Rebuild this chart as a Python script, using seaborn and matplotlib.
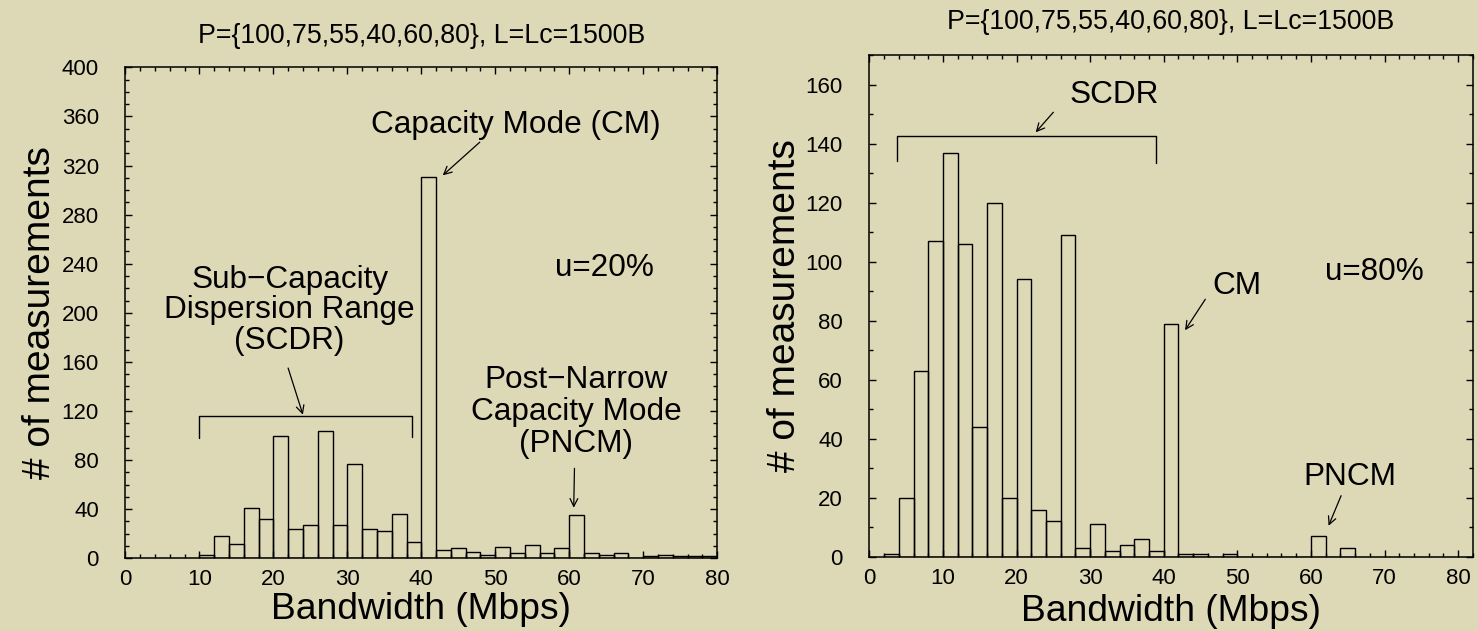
import numpy as np
import pandas as pd
import seaborn as sns
import matplotlib.pyplot as plt
from matplotlib.ticker import MultipleLocator

# histogram data (2 Mbps bins)
left_edges = np.arange(10, 82, 2)
left_counts = [3, 18, 12, 41, 32, 100, 24, 27, 104, 27, 77, 24, 22, 36, 13,
               311,
               7, 8, 5, 3, 9, 4, 11, 4, 8, 35, 4, 3, 4, 0, 2, 3, 2, 2, 2]

right_edges = np.arange(2, 68, 2)
right_counts = [1, 20, 63, 107, 137, 106, 44, 120, 20, 94, 16, 12, 109, 3, 11, 2, 4, 6, 2,
                79,
                1, 1, 0, 1, 0, 0, 0, 0, 0, 7, 0, 3]

title = "P={100,75,55,40,60,80}, L=Lc=1500B"
xlabel = "Bandwidth (Mbps)"
ylabel = "# of measurements"

BG = '#ddd8b6'

sns.set_style("ticks")
plt.rcParams['font.family'] = ['Liberation Sans', 'DejaVu Sans']
plt.rcParams['axes.unicode_minus'] = True
for k in ['text.color', 'axes.labelcolor', 'xtick.color', 'ytick.color']:
    plt.rcParams[k] = 'black'

fig = plt.figure(figsize=(14.78, 6.31), dpi=100)
fig.patch.set_facecolor(BG)

axL = fig.add_axes([0.0848, 0.1152, 0.4005, 0.7781])
axR = fig.add_axes([0.5882, 0.1177, 0.4083, 0.7946])


def draw_hist(ax, edges, counts):
    df = pd.DataFrame({'bw': edges[:-1] + 1.0, 'n': np.asarray(counts, dtype=float)})
    sns.histplot(data=df, x='bw', weights='n', bins=list(edges), fill=False, color='black',
                 linewidth=1.0, ax=ax)


def style_axes(ax, xmax, ymax, ymajor, tpos):
    ax.set_facecolor(BG)
    ax.set_xlim(0, xmax)
    ax.set_ylim(0, ymax)
    ax.xaxis.set_major_locator(MultipleLocator(10))
    ax.xaxis.set_minor_locator(MultipleLocator(2))
    ax.yaxis.set_major_locator(MultipleLocator(ymajor))
    ax.yaxis.set_minor_locator(MultipleLocator(10))
    ax.set_xticks(np.arange(0, 81, 10))
    ax.tick_params(which='both', direction='in', top=True, right=True, width=1.0, colors='black')
    ax.tick_params(which='major', length=5.3)
    ax.tick_params(which='minor', length=2.9)
    ax.tick_params(axis='y', which='major', labelsize=16, pad=19)
    ax.tick_params(axis='x', which='major', labelsize=16, pad=8)
    for s in ax.spines.values():
        s.set_linewidth(1.1)
        s.set_color('black')
    ax.set_xlabel(xlabel, fontsize=26.8)
    ax.set_ylabel(ylabel, fontsize=28)
    ax.xaxis.label.set_va('center')
    ax.yaxis.label.set_va('center')
    ax.text(0.5, tpos, title, transform=ax.transAxes, ha='center', va='center', fontsize=19.3)


def arrow(ax, tail, head):
    ax.annotate('', xy=head, xytext=tail,
                arrowprops=dict(arrowstyle='->', color='black', lw=0.9,
                                shrinkA=0, shrinkB=0, mutation_scale=14))


def bracket(ax, x0, x1, ytop, yl, yr):
    ax.plot([x0, x0, x1, x1], [yl, ytop, ytop, yr], color='black', lw=1.0)


fs = 22.7

# left panel, u=20%
draw_hist(axL, left_edges, left_counts)
style_axes(axL, 80, 400, 40, 1.063)
axL.xaxis.set_label_coords(0.5, -0.105)
axL.yaxis.set_label_coords(-0.144, 0.5)
axL.text(52.8, 353, "Capacity Mode (CM)", ha='center', va='center', fontsize=fs)
arrow(axL, (47.9, 339), (42.9, 312))
axL.text(22.2, 202, "Sub\u2212Capacity\nDispersion Range\n(SCDR)", ha='center', va='center',
         fontsize=fs, linespacing=1.02)
arrow(axL, (22.0, 155), (24.0, 117))
bracket(axL, 10, 38.8, 116, 98, 99)
axL.text(64.8, 236.5, "u=20%", ha='center', va='center', fontsize=fs)
axL.text(60.9, 119.4, "Post\u2212Narrow\nCapacity Mode\n(PNCM)", ha='center', va='center',
         fontsize=fs, linespacing=1.08)
arrow(axL, (60.7, 73.3), (60.6, 41.2))

# right panel, u=80%
draw_hist(axR, right_edges, right_counts)
style_axes(axR, 82, 170, 20, 1.066)
axR.xaxis.set_label_coords(0.5, -0.11)
axR.yaxis.set_label_coords(-0.14, 0.5)
axR.text(33.3, 156.5, "SCDR", ha='center', va='center', fontsize=fs)
arrow(axR, (25.0, 150.7), (22.6, 143.9))
bracket(axR, 3.7, 38.9, 142.6, 134.1, 133.5)
axR.text(68.6, 96.5, "u=80%", ha='center', va='center', fontsize=fs)
axR.text(49.9, 91.8, "CM", ha='center', va='center', fontsize=fs)
arrow(axR, (45.65, 87.3), (42.9, 76.8))
axR.text(65.35, 27.1, "PNCM", ha='center', va='center', fontsize=fs)
arrow(axR, (64.1, 20.7), (62.4, 10.5))

fig.savefig('out.png', dpi=100, facecolor=BG)
